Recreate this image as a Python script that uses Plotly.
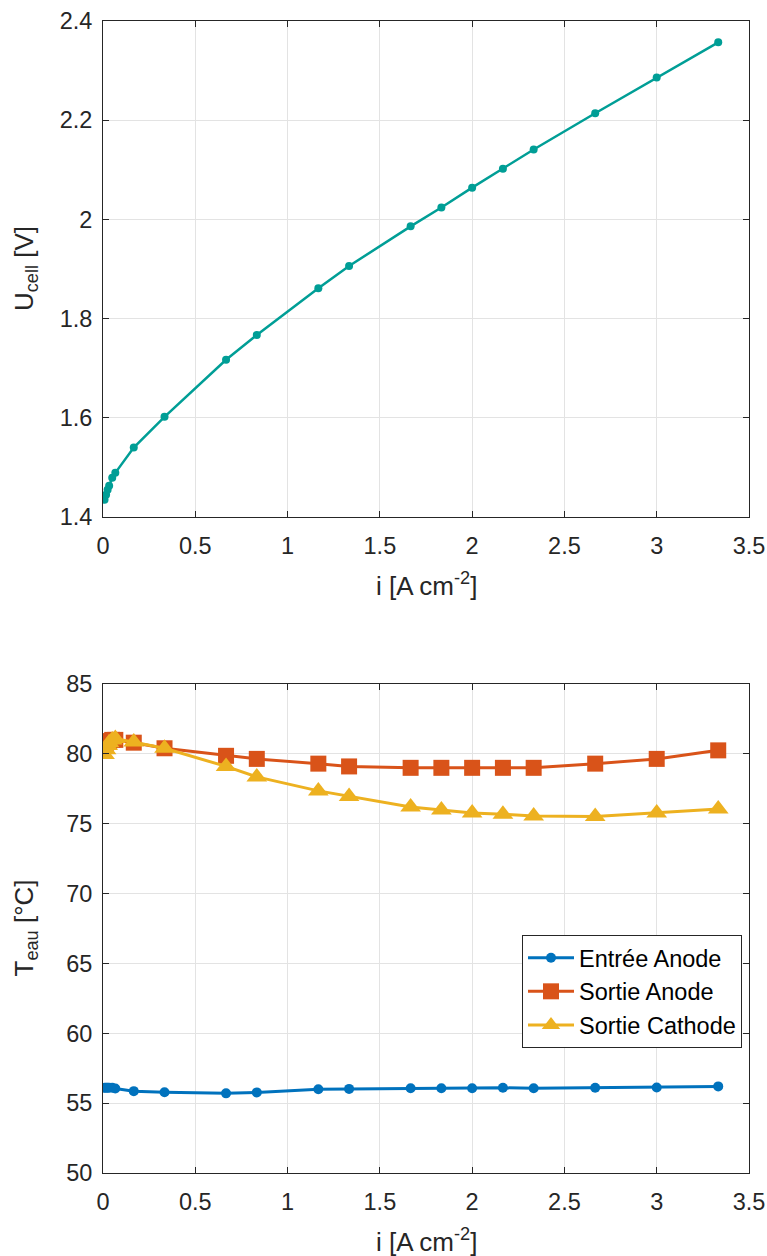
import plotly.graph_objects as go

# Current density [A cm^-2]
i_cell = [0.0083, 0.0167, 0.025, 0.0333, 0.05, 0.0667, 0.1667, 0.3333, 0.6667, 0.8333,
          1.1667, 1.3333, 1.6667, 1.8333, 2.0, 2.1667, 2.3333, 2.6667, 3.0, 3.3333]

# Cell voltage [V]
U_cell = [1.435, 1.445, 1.455, 1.463, 1.479, 1.489, 1.540, 1.602, 1.717, 1.767,
          1.861, 1.906, 1.986, 2.024, 2.064, 2.102, 2.141, 2.214, 2.286, 2.357]

# Water temperatures [°C]
T_entree_anode = [56.1, 56.1, 56.1, 56.1, 56.1, 56.05, 55.86, 55.78, 55.7, 55.77,
                  56.0, 56.02, 56.06, 56.06, 56.06, 56.1, 56.06, 56.1, 56.12, 56.2]
T_sortie_anode = [80.7, 80.8, 80.9, 80.9, 81.0, 81.0, 80.8, 80.4, 79.86, 79.64,
                  79.3, 79.1, 79.0, 79.0, 79.0, 79.0, 79.0, 79.3, 79.64, 80.25]
T_sortie_cathode = [79.95, 80.3, 80.6, 80.8, 81.0, 81.1, 80.85, 80.4, 79.1, 78.35,
                    77.35, 76.95, 76.2, 75.98, 75.76, 75.68, 75.55, 75.52, 75.76, 76.05]

x_ticks = [0, 0.5, 1, 1.5, 2, 2.5, 3, 3.5]

AX = "#262626"
GRID = "#e3e3e3"
FONT = "Liberation Sans, Arial, sans-serif"
TICK_SIZE = 23.5
TITLE_SIZE = 26

W = 767
H = 1256


def px(x):
    return x / W


def py(y):
    return 1 - y / H


fig = go.Figure()

fig.add_trace(go.Scatter(
    x=i_cell, y=U_cell, mode="lines+markers",
    line=dict(color="#009E96", width=2.5),
    marker=dict(color="#009E96", size=8),
    showlegend=False, xaxis="x", yaxis="y"))

fig.add_trace(go.Scatter(
    x=i_cell, y=T_entree_anode, mode="lines+markers", name="Entrée Anode",
    line=dict(color="#0072BD", width=3),
    marker=dict(color="#0072BD", size=10, symbol="circle"),
    xaxis="x2", yaxis="y2"))
fig.add_trace(go.Scatter(
    x=i_cell, y=T_sortie_anode, mode="lines+markers", name="Sortie Anode",
    line=dict(color="#D95319", width=3),
    marker=dict(color="#D95319", size=16, symbol="square"),
    xaxis="x2", yaxis="y2"))
fig.add_trace(go.Scatter(
    x=i_cell, y=T_sortie_cathode, mode="lines+markers", name="Sortie Cathode",
    line=dict(color="#EDB120", width=3),
    marker=dict(color="#EDB120", size=18, symbol="triangle-up"),
    xaxis="x2", yaxis="y2"))

L, R = 103, 749
xdom = [px(L), px(R)]
top_y = [21, 517]
bot_y = [684, 1173]

common_axis = dict(
    showline=True, linecolor=AX, linewidth=1, mirror="ticks",
    ticks="inside", ticklen=6, tickcolor=AX, tickwidth=1,
    showgrid=True, gridcolor=GRID, gridwidth=1, zeroline=False,
    tickfont=dict(family=FONT, size=TICK_SIZE, color=AX),
    automargin=False,
)

title_font = dict(family=FONT, size=TITLE_SIZE, color=AX)

fig.update_layout(
    width=W, height=H,
    margin=dict(l=0, r=0, t=0, b=0),
    paper_bgcolor="white", plot_bgcolor="white",
    font=dict(family=FONT, color=AX),
    xaxis=dict(domain=xdom, range=[0, 3.5], tickvals=x_ticks, anchor="y",
               ticklabelstandoff=8, **common_axis),
    yaxis=dict(domain=[py(top_y[1]), py(top_y[0])], range=[1.4, 2.4], dtick=0.2,
               anchor="x", ticklabelstandoff=5, **common_axis),
    xaxis2=dict(domain=xdom, range=[0, 3.5], tickvals=x_ticks, anchor="y2",
                ticklabelstandoff=8, **common_axis),
    yaxis2=dict(domain=[py(bot_y[1]), py(bot_y[0])], range=[50, 85], dtick=5,
                anchor="x2", ticklabelstandoff=5, **common_axis),
    legend=dict(x=px(522), y=py(935), xanchor="left", yanchor="top",
                bgcolor="white", bordercolor=AX, borderwidth=1,
                font=dict(family=FONT, size=TICK_SIZE, color="black"),
                itemwidth=46, tracegroupgap=0),
)

xc = px((L + R) / 2)
annotations = [
    dict(text="i [A cm<sup>-2</sup>]", x=xc, y=py(584), xref="paper", yref="paper",
         xanchor="center", yanchor="middle", showarrow=False, font=title_font),
    dict(text="i [A cm<sup>-2</sup>]", x=xc, y=py(1240), xref="paper", yref="paper",
         xanchor="center", yanchor="middle", showarrow=False, font=title_font),
    dict(text="U<sub>cell</sub> [V]", x=px(25), y=py(sum(top_y) / 2), xref="paper",
         yref="paper", xanchor="center", yanchor="middle", showarrow=False,
         textangle=-90, font=title_font),
    dict(text="T<sub>eau</sub> [°C]", x=px(25), y=py(sum(bot_y) / 2), xref="paper",
         yref="paper", xanchor="center", yanchor="middle", showarrow=False,
         textangle=-90, font=title_font),
]
fig.update_layout(annotations=annotations)

# Remove the browser's default 8 px body margin so the figure fills the window exactly
fig.write_html(
    "out.html",
    config={"displayModeBar": False},
    post_script="document.body.style.margin='0';document.body.style.overflow='hidden';",
)
